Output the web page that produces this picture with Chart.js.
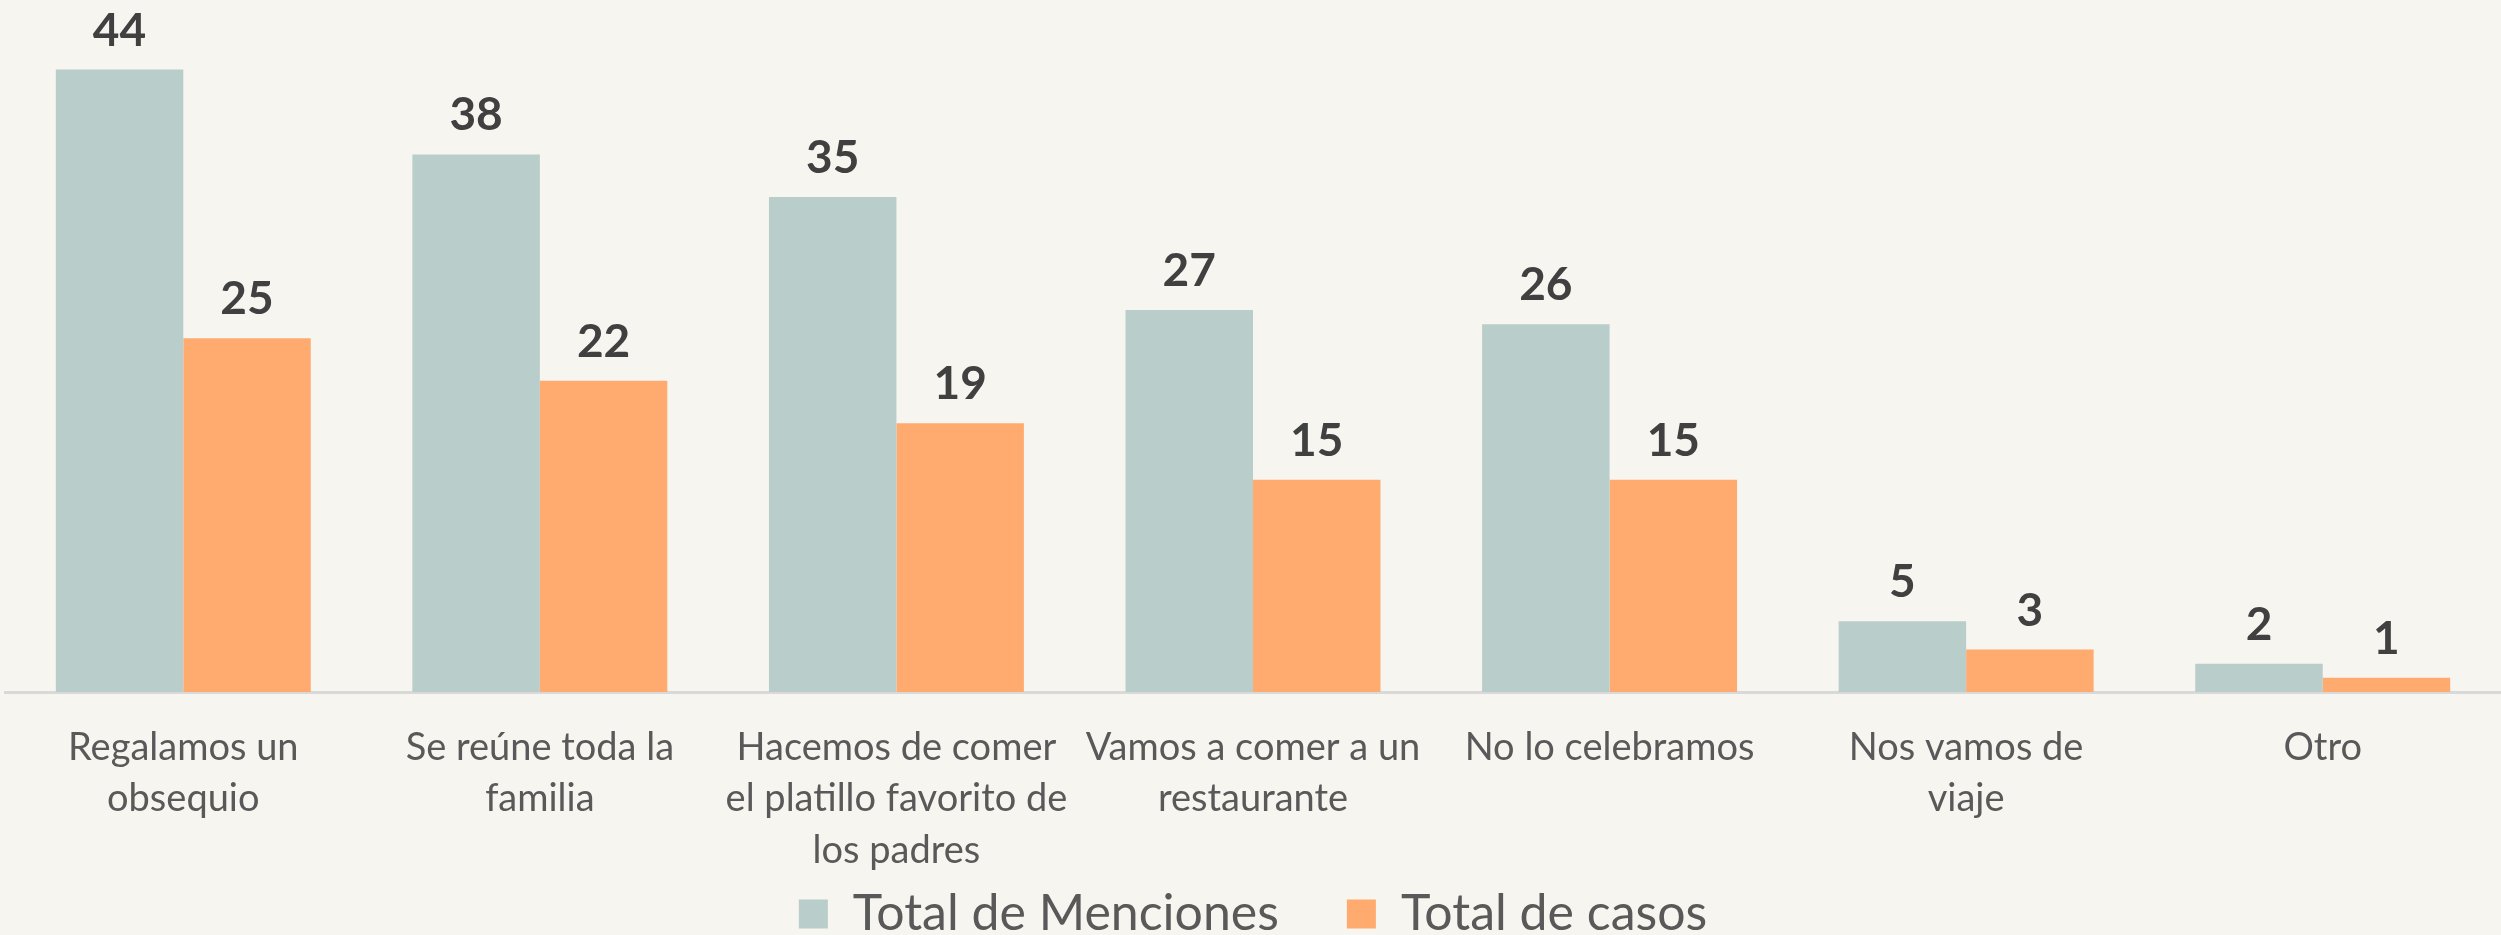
<!DOCTYPE html>
<html>
<head>
<meta charset="utf-8">
<script src="https://cdn.jsdelivr.net/npm/chart.js@4.4.1/dist/chart.umd.min.js"></script>
<style>
  html, body { margin: 0; padding: 0; background: #f7f5f0; }
  #wrap { width: 2501px; height: 935px; position: relative; }
</style>
</head>
<body>
<div id="wrap"><canvas id="chart"></canvas></div>
<script>
// Categories (multi-line labels are arrays of lines)
const categories = [
  ["Regalamos un", "obsequio"],
  ["Se reúne toda la", "familia"],
  ["Hacemos de comer", "el platillo favorito de", "los padres"],
  ["Vamos a comer a un", "restaurante"],
  "No lo celebramos",
  ["Nos vamos de", "viaje"],
  "Otro"
];
const menciones = [44, 38, 35, 27, 26, 5, 2];
const casos = [25, 22, 19, 15, 15, 3, 1];
const seriesNames = ["Total de Menciones", "Total de casos"];

const FONT = "Lato, 'Open Sans', sans-serif";

// Draws each bar's value above it, positioned from the bar elements
const valueLabels = {
  id: 'valueLabels',
  afterDatasetsDraw(chart) {
    const ctx = chart.ctx;
    ctx.save();
    ctx.font = "bold 46px " + FONT;
    ctx.fillStyle = '#404040';
    ctx.textAlign = 'center';
    ctx.textBaseline = 'alphabetic';
    chart.data.datasets.forEach((ds, di) => {
      const meta = chart.getDatasetMeta(di);
      meta.data.forEach((bar, i) => {
        ctx.fillText(String(ds.data[i]), bar.x, bar.y - 24);
      });
    });
    ctx.restore();
  }
};

new Chart(document.getElementById('chart'), {
  type: 'bar',
  data: {
    labels: categories,
    datasets: [
      { label: seriesNames[0], data: menciones, backgroundColor: '#b9cdcb',
        categoryPercentage: 0.715, barPercentage: 1.0 },
      { label: seriesNames[1], data: casos, backgroundColor: '#ffab6f',
        categoryPercentage: 0.715, barPercentage: 1.0 }
    ]
  },
  options: {
    responsive: true,
    maintainAspectRatio: false,
    animation: false,
    layout: { padding: { top: 13, left: 5, right: 0, bottom: 0 } },
    plugins: {
      legend: {
        position: 'bottom',
        maxHeight: 50,
        labels: {
          font: { family: FONT, size: 50 },
          color: '#595959',
          boxWidth: 29,
          boxHeight: 29,
          padding: 4,
          // widen the gap between the two legend entries
          generateLabels(chart) {
            const items = Chart.defaults.plugins.legend.labels.generateLabels(chart);
            items.forEach(it => { it.lineWidth = 0; });
            items[0].text += '     ';
            return items;
          }
        }
      },
      tooltip: { enabled: false }
    },
    scales: {
      x: {
        grid: { display: false, drawTicks: false },
        border: { display: true, color: '#d9d9d9', width: 3 },
        ticks: {
          color: '#595959',
          font: { family: FONT, size: 38, lineHeight: 1.35 },
          padding: 30,
          maxRotation: 0,
          autoSkip: false
        },
        afterFit(scale) { scale.height = 193; }
      },
      y: {
        display: false,
        min: 0,
        max: 48
      }
    }
  },
  plugins: [valueLabels]
});
</script>
</body>
</html>
